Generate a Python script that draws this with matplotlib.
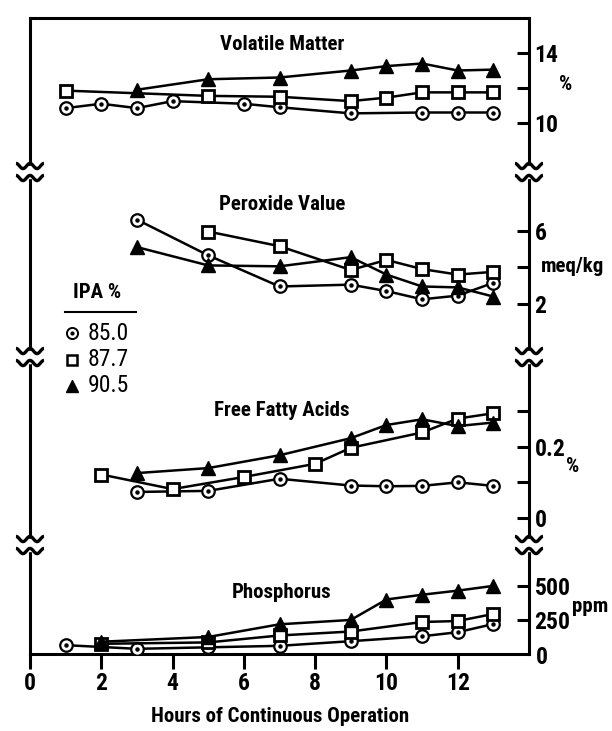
import numpy as np
import matplotlib
matplotlib.use("Agg")
import matplotlib.pyplot as plt
from matplotlib import font_manager as fm
from matplotlib.patches import Rectangle

# condensed sans if one is installed, otherwise Roboto
_fonts = [(f.name, f.stretch) for f in fm.fontManager.ttflist]
_names = {n for n, s in _fonts}
FONT, STRETCH = 'Roboto', 'normal'
if 'Liberation Sans Narrow' in _names:
    FONT = 'Liberation Sans Narrow'
elif 'Roboto Condensed' in _names:
    FONT = 'Roboto Condensed'
elif any(n == 'DejaVu Sans' and s in ('condensed', 'semi-condensed') for n, s in _fonts):
    FONT, STRETCH = 'DejaVu Sans', 'condensed'
plt.rcParams['font.family'] = [FONT, 'DejaVu Sans']
plt.rcParams['font.stretch'] = STRETCH
plt.rcParams['font.weight'] = 'medium'

# ---- data ----
vm_h_85 = [1, 2, 3, 4, 6, 7, 9, 11, 12, 13]
vm_85 = [10.85, 11.1, 10.85, 11.25, 11.1, 10.9, 10.55, 10.6, 10.6, 10.6]
vm_h_877 = [1, 5, 7, 9, 10, 11, 12, 13]
vm_877 = [11.85, 11.55, 11.5, 11.25, 11.45, 11.75, 11.75, 11.75]
vm_h_905 = [3, 5, 7, 9, 10, 11, 12, 13]
vm_905 = [11.9, 12.5, 12.6, 13.0, 13.25, 13.4, 13.0, 13.05]

pv_h_85 = [3, 5, 7, 9, 10, 11, 12, 13]
pv_85 = [6.6, 4.65, 2.95, 3.05, 2.7, 2.25, 2.45, 3.15]
pv_h_877 = [5, 7, 9, 10, 11, 12, 13]
pv_877 = [5.95, 5.15, 3.85, 4.4, 3.9, 3.6, 3.75]
pv_h_905 = [3, 5, 7, 9, 10, 11, 12, 13]
pv_905 = [5.1, 4.1, 4.05, 4.55, 3.6, 2.95, 2.9, 2.4]

ffa_h_85 = [3, 5, 7, 9, 10, 11, 12, 13]
ffa_85 = [0.073, 0.076, 0.11, 0.091, 0.089, 0.09, 0.1, 0.09]
ffa_h_877 = [2, 4, 6, 8, 9, 11, 12, 13]
ffa_877 = [0.122, 0.081, 0.115, 0.152, 0.197, 0.24, 0.279, 0.294]
ffa_h_905 = [3, 5, 7, 9, 10, 11, 12, 13]
ffa_905 = [0.126, 0.14, 0.176, 0.224, 0.261, 0.277, 0.258, 0.268]

p_h_85 = [1, 3, 5, 7, 9, 11, 12, 13]
p_85 = [65, 38, 49, 60, 94, 130, 160, 220]
p_h_877 = [2, 5, 7, 9, 11, 12, 13]
p_877 = [75, 85, 136, 165, 235, 242, 294]
p_h_905 = [2, 5, 7, 9, 10, 11, 12, 13]
p_905 = [90, 125, 218, 250, 400, 435, 465, 500]

ipa_labels = ["85.0", "87.7", "90.5"]
x_ticks = [0, 2, 4, 6, 8, 10, 12]

W, H = 612, 731
LEFT, RIGHT = 30, 529
fig = plt.figure(figsize=(W / 100, H / 100), dpi=100)


def rect(top, bottom):
    return [LEFT / W, 1 - bottom / H, (RIGHT - LEFT) / W, (bottom - top) / H]


panels = [
    # top, bottom, ylim, ticks, labels, title, unit, unit pos
    (18, 172, (7.2, 16.0), [10, 12, 14], ["10", "", "14"], "Volatile Matter",
     "%", (566, 84)),
    (172, 357, (-0.9, 9.2), [2, 4, 6], ["2", "", "6"], "Peroxide Value",
     "meq/kg", (572, 267)),
    (357, 545, (-0.076, 0.452), [0, 0.1, 0.2, 0.3], ["0", "", "0.2", ""],
     "Free Fatty Acids", "%", (573, 466)),
    (545, 654, (0, 800), [250, 500], ["250", "500"], "Phosphorus",
     "ppm", (590, 606)),
]
series = [
    [(vm_h_85, vm_85), (vm_h_877, vm_877), (vm_h_905, vm_905)],
    [(pv_h_85, pv_85), (pv_h_877, pv_877), (pv_h_905, pv_905)],
    [(ffa_h_85, ffa_85), (ffa_h_877, ffa_877), (ffa_h_905, ffa_905)],
    [(p_h_85, p_85), (p_h_877, p_877), (p_h_905, p_905)],
]
title_y = [45, 205, 411, 592]

LW = 1.8
SPW = 2.2


def draw_series(ax, data):
    (h1, v1), (h2, v2), (h3, v3) = data
    ax.plot(h1, v1, color='k', lw=LW, marker='o', ms=9, mfc='white',
            mec='k', mew=1.6, zorder=3)
    ax.plot(h1, v1, ls='none', marker='o', ms=2.2, color='k', zorder=3.1)
    ax.plot(h2, v2, color='k', lw=LW, marker='s', ms=8, mfc='white',
            mec='k', mew=2.0, zorder=4)
    ax.plot(h3, v3, color='k', lw=LW, marker='^', ms=10, mfc='k',
            mec='k', zorder=5)


for i, (top, bot, ylim, ticks, labels, title, unit, upos) in enumerate(panels):
    ax = fig.add_axes(rect(top, bot))
    ax.set_xlim(0, 14.0)
    ax.set_ylim(*ylim)
    ax.patch.set_visible(False)
    for s in ax.spines.values():
        s.set_linewidth(SPW)
    ax.spines['top'].set_visible(i == 0)
    ax.spines['bottom'].set_visible(i == 3)
    ax.yaxis.tick_right()
    ax.set_yticks(ticks)
    ax.set_yticklabels(labels, fontweight='bold')
    ax.tick_params(axis='y', direction='in', length=9, width=SPW,
                   labelsize=17, pad=4)
    if i == 3:
        ax.set_xticks(x_ticks)
        ax.set_xticklabels([str(v) for v in x_ticks], fontweight='bold')
        ax.tick_params(axis='x', direction='out', length=11, width=SPW,
                       labelsize=17, pad=2)
    else:
        ax.set_xticks([])
    draw_series(ax, series[i])

# overlay in pixel coordinates for text, legend and break marks
ov = fig.add_axes([0, 0, 1, 1])
ov.set_xlim(0, W)
ov.set_ylim(H, 0)
ov.axis('off')
ov.patch.set_visible(False)
ov.set_zorder(10)

for (top, bot, ylim, ticks, labels, title, unit, upos), ty in zip(panels, title_y):
    ov.text(282, ty, title, ha='center', va='center', fontsize=15,
            fontweight='bold')
    ov.text(upos[0], upos[1], unit, ha='center', va='center', fontsize=15,
            fontweight='bold')

ov.text(RIGHT + 7, 658, "0", ha='left', va='center', fontsize=17,
        fontweight='bold')
ov.text(280, 717, "Hours of Continuous Operation", ha='center', va='center',
        fontsize=15, fontweight='bold')

# legend
ov.text(97, 293, "IPA %", ha='center', va='center', fontsize=15,
        fontweight='bold')
ov.plot([65, 136], [312, 312], color='k', lw=1.5)
leg_y = [333, 360, 386]
ov.plot([72], [leg_y[0]], marker='o', ms=8, mfc='white', mec='k', mew=1.4)
ov.plot([72], [leg_y[0]], marker='o', ms=2, color='k')
ov.plot([72], [leg_y[1]], marker='s', ms=6.5, mfc='white', mec='k', mew=1.8)
ov.plot([72], [leg_y[2]], marker='^', ms=9, color='k')
for y, lab in zip(leg_y, ipa_labels):
    ov.text(88, y, lab, ha='left', va='center', fontsize=17, fontweight='normal')

# axis break marks
t = np.linspace(-14, 14, 80)
for yb in (172, 357, 545):
    for xb in (LEFT, RIGHT):
        ov.add_patch(Rectangle((xb - 4, yb - 6), 8, 12, color='white', zorder=5))
        for dy in (-6, 6):
            ov.plot(xb + t, yb + dy - 2.6 * np.cos(2 * np.pi * (t + 14) / 14),
                    color='k', lw=2.4, zorder=6, solid_capstyle='butt')

fig.savefig("out.png", dpi=100)
